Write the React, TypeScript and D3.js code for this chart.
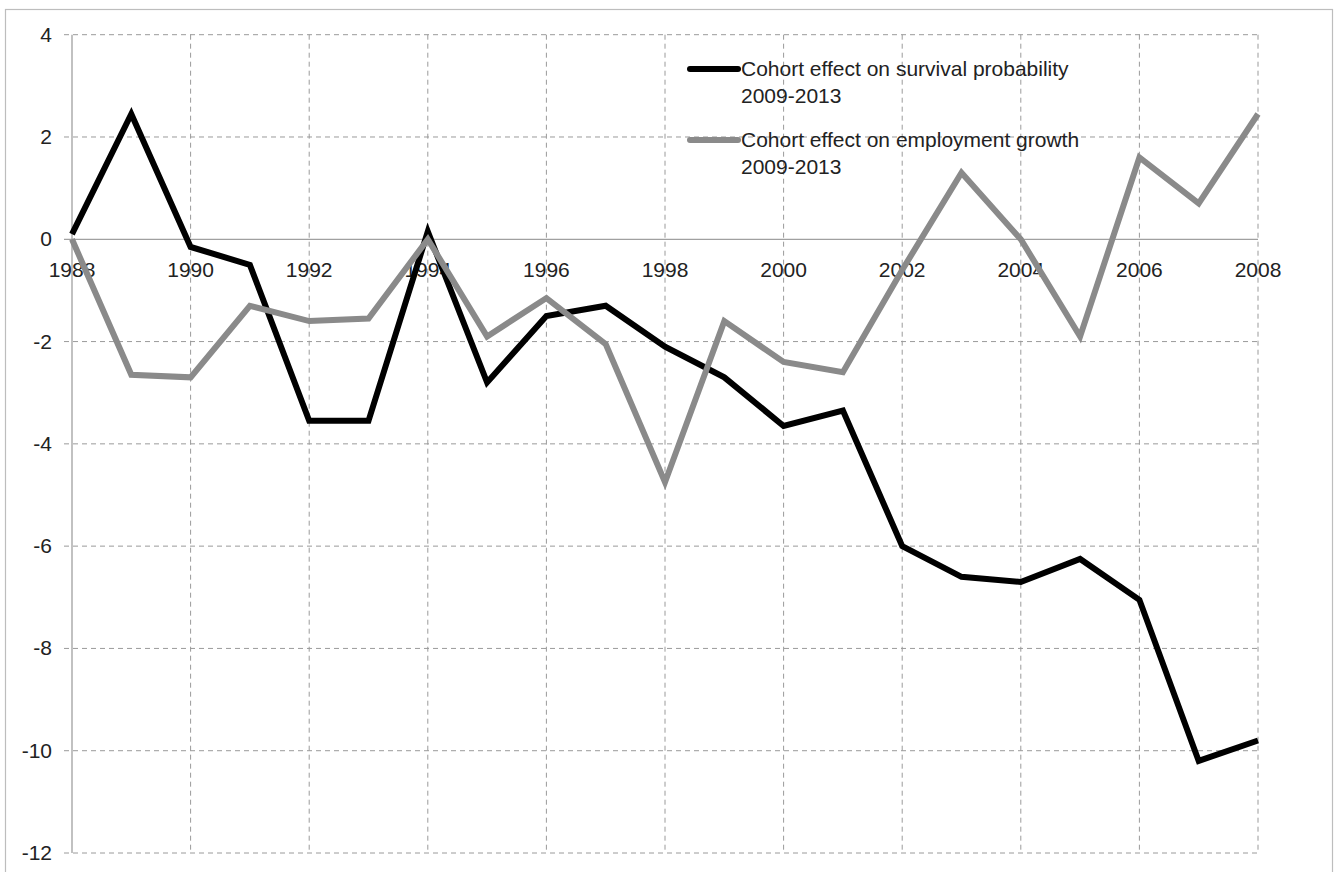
import React from "react";
import * as d3 from "d3";

const years = [1988,1989,1990,1991,1992,1993,1994,1995,1996,1997,1998,1999,2000,2001,2002,2003,2004,2005,2006,2007,2008];
const survival = [0.1,2.45,-0.15,-0.5,-3.55,-3.55,0.15,-2.8,-1.5,-1.3,-2.1,-2.7,-3.65,-3.35,-6.0,-6.6,-6.7,-6.25,-7.05,-10.2,-9.8];
const employment = [0,-2.65,-2.7,-1.3,-1.6,-1.55,0.0,-1.9,-1.15,-2.05,-4.75,-1.6,-2.4,-2.6,-0.6,1.3,0.0,-1.9,1.6,0.7,2.45];
const yTicks = [4,2,0,-2,-4,-6,-8,-10,-12];
const xTicks = [1988,1990,1992,1994,1996,1998,2000,2002,2004,2006,2008];
const seriesNames = ["Cohort effect on survival probability", "Cohort effect on employment growth"];
const seriesSub = ["2009-2013", "2009-2013"];
const seriesColors = ["#000000", "#8a8a8a"];

export default function App() {
  const W = 1335, H = 872;
  const x = d3.scaleLinear().domain([1988, 2008]).range([72, 1258]);
  const y = d3.scaleLinear().domain([-12, 4]).range([853, 34.7]);
  const line = d3.line<number>().x((_, i) => x(years[i])).y((d) => y(d));
  const font = "'Liberation Sans', Arial, sans-serif";
  const fs = 21;
  const gridColor = "#9a9a9a";
  const series = [survival, employment];
  return (
    <svg width={W} height={H} style={{ position: "absolute", left: 0, top: 0, background: "#fff" }}>
      <rect x={5.5} y={9.5} width={1327} height={880} fill="#fff" stroke="#bdbdbd" strokeWidth={1.2} />
      {yTicks.filter((t) => t !== 0).map((t) => (
        <line key={"gy" + t} x1={64} x2={x(2008)} y1={y(t)} y2={y(t)} stroke={gridColor} strokeWidth={1} strokeDasharray="5,4" />
      ))}
      {xTicks.filter((t) => t !== 1988).map((t) => (
        <line key={"gx" + t} x1={x(t)} x2={x(t)} y1={y(4)} y2={y(-12)} stroke={gridColor} strokeWidth={1} strokeDasharray="5,4" />
      ))}
      <line x1={64} x2={x(2008)} y1={y(0)} y2={y(0)} stroke="#a0a0a0" strokeWidth={1.3} />
      <line x1={x(1988)} x2={x(1988)} y1={y(4)} y2={y(-12)} stroke="#a0a0a0" strokeWidth={1.3} />
      {yTicks.map((t) => (
        <text key={"ty" + t} x={52} y={y(t) + 7} textAnchor="end" fontFamily={font} fontSize={fs} fill="#222">{t}</text>
      ))}
      {xTicks.map((t) => (
        <text key={"tx" + t} x={x(t)} y={277} textAnchor="middle" fontFamily={font} fontSize={fs} fill="#222">{t}</text>
      ))}
      {series.map((s, i) => (
        <path key={"s" + i} d={line(s) || ""} fill="none" stroke={seriesColors[i]} strokeWidth={6} strokeLinejoin="miter" />
      ))}
      {seriesNames.map((n, i) => (
        <g key={"lg" + i} transform={`translate(0, ${i * 71})`}>
          <line x1={690} x2={738} y1={69} y2={69} stroke={seriesColors[i]} strokeWidth={6} strokeLinecap="round" />
          <text x={741} y={76} fontFamily={font} fontSize={fs} fill="#222">{n}</text>
          <text x={741} y={103} fontFamily={font} fontSize={fs} fill="#222">{seriesSub[i]}</text>
        </g>
      ))}
    </svg>
  );
}
